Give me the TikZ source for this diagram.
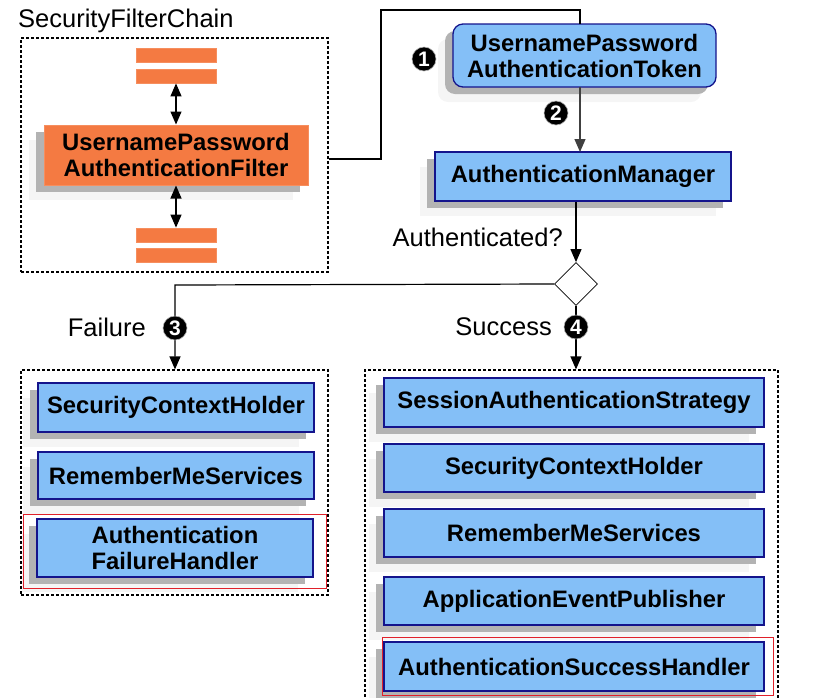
\documentclass[tikz,border=0pt]{standalone}
\usepackage{fontspec}
\setmainfont{Liberation Sans}
\usetikzlibrary{arrows.meta,shapes.geometric,shadows}
\definecolor{bluefill}{RGB}{132,191,247}
\definecolor{blueline}{RGB}{20,20,140}
\definecolor{orangefill}{RGB}{244,122,66}
\definecolor{shdark}{RGB}{179,179,179}
\definecolor{shlight}{RGB}{245,245,245}
\definecolor{redline}{RGB}{224,32,42}
\tikzset{
  sh/.style={general shadow={fill=shlight, shadow xshift=-15pt, shadow yshift=-15pt},
             general shadow={fill=shdark, shadow xshift=-8pt, shadow yshift=-7pt}},
  boxtext/.style={font=\bfseries\fontsize{23.8}{26}\selectfont, align=center, inner sep=0pt},
  bluebox/.style={boxtext, sh, fill=bluefill, draw=blueline, line width=1.3pt},
  orangebox/.style={boxtext, sh, fill=orangefill, draw=orangefill!85!white, line width=1pt},
  bar/.style={fill=orangefill, draw=orangefill!85!white, line width=0.8pt, minimum width=80pt, minimum height=14pt, inner sep=0pt},
  container/.style={draw, dashed, dash pattern=on 3pt off 2pt, line width=1.2pt, inner sep=0pt},
  redbox/.style={draw=redline, line width=1pt, inner sep=0pt},
  label/.style={font=\fontsize{25.5}{28}\selectfont, inner sep=0pt},
  badge/.style={circle, fill=black, draw=gray!60, line width=0.6pt, text=white, font=\bfseries\fontsize{21}{21}\selectfont, inner sep=0pt, minimum size=24pt},
  conn/.style={line width=1.2pt},
  arr/.style={conn, -{Triangle[length=13pt,width=11pt]}},
  darr/.style={conn, {Triangle[length=13pt,width=11pt]}-{Triangle[length=13pt,width=11pt]}},
}
\begin{document}
\begin{tikzpicture}[x=1pt,y=-1pt]
\useasboundingbox (0,0) rectangle (840,697);
% containers
\node[container, minimum width=307pt, minimum height=234pt] (chain) at (174.5,155) {};
\node[label, anchor=west] (chaintitle) at (18,21) {SecurityFilterChain};
\node[container, minimum width=307pt, minimum height=225pt] (fail) at (174.5,482.5) {};
\node[container, minimum width=413pt, minimum height=340pt] (succ) at (571.5,540) {};
% filter chain
\node[bar] (b1) at (176,55) {};
\node[bar] (b2) at (176,76) {};
\node[orangebox, minimum width=264pt, minimum height=60pt] (filter) at (176,155) {UsernamePassword\\AuthenticationFilter};
\node[bar] (b3) at (176,235) {};
\node[bar] (b4) at (176,255.5) {};
\draw[darr] (b2.south) -- (filter.north);
\draw[darr] (filter.south) -- (b3.north);
% token & manager
\node[bluebox, rounded corners=10pt, minimum width=263pt, minimum height=63pt] (token) at (584.5,55.5) {UsernamePassword\\AuthenticationToken};
\node[bluebox, minimum width=296pt, minimum height=49pt] (manager) at (583,176.5) {AuthenticationManager};
\node[diamond, draw, line width=0.8pt, fill=white, minimum width=43pt, minimum height=43pt, inner sep=0pt] (dia) at (576,284) {};
\node[label, anchor=east] (authq) at (563,237) {Authenticated?};
% connectors
\coordinate (c1) at (381,159);
\coordinate (c2) at (381,10);
\coordinate (c3) at (580,10);
\coordinate (c4) at (580,24);
\draw[conn] (chain.east |- c1) -- (c1) -- (c2) -- (c3) -- (c4);
\coordinate (t2) at (580,87);
\coordinate (m2) at (580,152);
\draw[conn, -{Triangle[length=13pt,width=11pt]}, draw=black!75] (t2) -- (m2);
\draw[arr] (dia.north |- manager.south) -- (dia.north);
\coordinate (fc) at (175,285);
\draw[arr] (dia.west) -- (fc) -- (fc |- fail.north);
\draw[arr] (dia.south) -- (dia.south |- succ.north);
% badges
\node[badge] (n1) at (424,59) {1};
\node[badge] (n2) at (556,113) {2};
\node[badge] (n3) at (175,328) {3};
\node[badge] (n4) at (576,327) {4};
\node[label, anchor=east] (faillab) at (146,327) {Failure};
\node[label, anchor=east] (succlab) at (552,327) {Success};
% failure boxes
\node[bluebox, minimum width=276pt, minimum height=49pt] (f1) at (176,407.5) {SecurityContextHolder};
\node[bluebox, minimum width=276pt, minimum height=47pt] (f2) at (176,475.5) {RememberMeServices};
\node[bluebox, minimum width=276pt, minimum height=58pt] (f3) at (175,548) {Authentication\\FailureHandler};
\node[redbox, minimum width=303pt, minimum height=74pt] (fr) at (174.5,551) {};
% success boxes
\node[bluebox, minimum width=380pt, minimum height=49pt] (s1) at (574,402.5) {SessionAuthenticationStrategy};
\node[bluebox, minimum width=380pt, minimum height=48pt] (s2) at (574,468) {SecurityContextHolder};
\node[bluebox, minimum width=380pt, minimum height=48pt] (s3) at (574,533) {RememberMeServices};
\node[bluebox, minimum width=380pt, minimum height=48pt] (s4) at (574,601) {ApplicationEventPublisher};
\node[bluebox, minimum width=380pt, minimum height=49pt] (s5) at (574,666.5) {AuthenticationSuccessHandler};
\node[redbox, minimum width=391pt, minimum height=58pt] (sr) at (577.5,666) {};
\end{tikzpicture}
\end{document}
